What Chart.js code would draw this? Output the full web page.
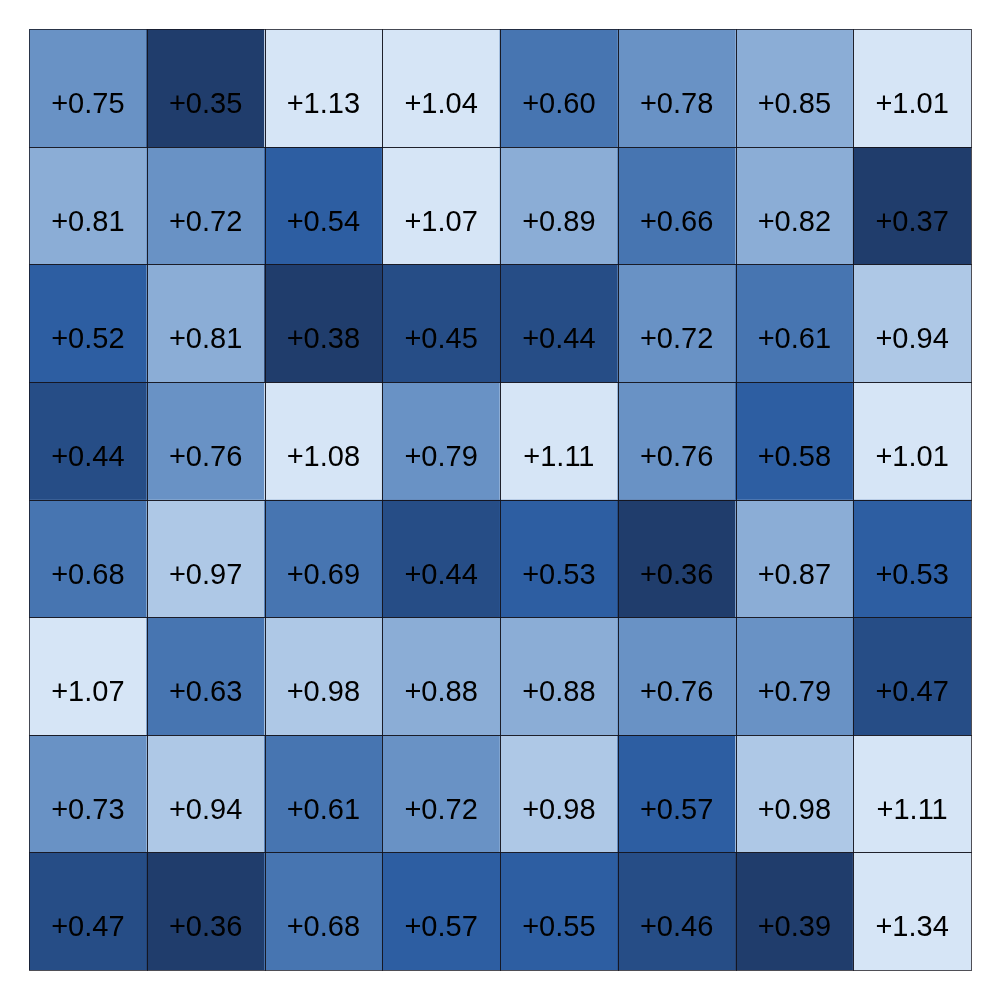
<!DOCTYPE html>
<html lang="en">
<head>
    <meta charset="UTF-8">
    <title>Heatmap</title>
    <style>
        body {
            margin: 0;
            background: #fff;
        }
        .chart-container {
            width: 1000px;
            height: 1000px;
        }
    </style>
</head>
<body>

<div class="chart-container">
    <canvas id="heatChart" width="1000" height="1000"></canvas>
</div>

<script src="https://cdn.jsdelivr.net/npm/chart.js"></script>
<script>
    const columns = ['C1', 'C2', 'C3', 'C4', 'C5', 'C6', 'C7', 'C8'];
    const rowNames = ['R1', 'R2', 'R3', 'R4', 'R5', 'R6', 'R7', 'R8'];

    // values row by row, top to bottom
    const row1 = [0.75, 0.35, 1.13, 1.04, 0.60, 0.78, 0.85, 1.01];
    const row2 = [0.81, 0.72, 0.54, 1.07, 0.89, 0.66, 0.82, 0.37];
    const row3 = [0.52, 0.81, 0.38, 0.45, 0.44, 0.72, 0.61, 0.94];
    const row4 = [0.44, 0.76, 1.08, 0.79, 1.11, 0.76, 0.58, 1.01];
    const row5 = [0.68, 0.97, 0.69, 0.44, 0.53, 0.36, 0.87, 0.53];
    const row6 = [1.07, 0.63, 0.98, 0.88, 0.88, 0.76, 0.79, 0.47];
    const row7 = [0.73, 0.94, 0.61, 0.72, 0.98, 0.57, 0.98, 1.11];
    const row8 = [0.47, 0.36, 0.68, 0.57, 0.55, 0.46, 0.39, 1.34];
    const rows = [row1, row2, row3, row4, row5, row6, row7, row8];

    // colour bins: upper limits and colours
    const binLimits = [0.4, 0.5, 0.6, 0.7, 0.8, 0.9, 1.0, Infinity];
    const binColors = ['#203d6c', '#264d86', '#2d5ea2', '#4775b1', '#6992c5', '#8badd6', '#aec8e6', '#d6e5f6'];

    function colorFor(v) {
        for (let i = 0; i < binLimits.length; i++) {
            if (v < binLimits[i]) return binColors[i];
        }
        return binColors[binColors.length - 1];
    }

    const fmt = v => (v >= 0 ? '+' : '') + v.toFixed(2);

    // labels + cell edges drawn on top of the bars
    const cellPlugin = {
        id: 'cellPlugin',
        afterDatasetsDraw(chart) {
            const ctx = chart.ctx;
            ctx.save();
            chart.data.datasets.forEach((ds, di) => {
                const meta = chart.getDatasetMeta(di);
                meta.data.forEach((bar, i) => {
                    const left = Math.round(bar.x - bar.width / 2);
                    const right = Math.round(bar.x + bar.width / 2);
                    const top = Math.round(Math.min(bar.y, bar.base));
                    const bottom = Math.round(Math.max(bar.y, bar.base));
                    ctx.strokeStyle = 'rgba(20,20,30,0.75)';
                    ctx.lineWidth = 1;
                    ctx.strokeRect(left + 0.5, top + 0.5, right - left, bottom - top);

                    ctx.fillStyle = '#000';
                    ctx.font = '29px "Liberation Sans", Arial, sans-serif';
                    ctx.textAlign = 'center';
                    ctx.textBaseline = 'middle';
                    ctx.fillText(fmt(ds.values[i]), bar.x, (top + bottom) / 2 + 17);
                });
            });
            ctx.restore();
        }
    };

    const datasets = rows.map((r, ri) => ({
        label: rowNames[ri],
        data: r.map(() => 1),
        values: r,
        backgroundColor: r.map(colorFor),
        borderWidth: 0,
        categoryPercentage: 1.0,
        barPercentage: 1.0
    }));

    new Chart(document.getElementById('heatChart'), {
        type: 'bar',
        data: { labels: columns, datasets: datasets },
        options: {
            responsive: false,
            animation: false,
            layout: { padding: { left: 29, right: 29, top: 29, bottom: 30 } },
            scales: {
                x: { stacked: true, display: false },
                y: { stacked: true, display: false, reverse: true, min: 0, max: 8 }
            },
            plugins: {
                legend: { display: false },
                tooltip: { enabled: false }
            }
        },
        plugins: [cellPlugin]
    });
</script>

</body>
</html>
